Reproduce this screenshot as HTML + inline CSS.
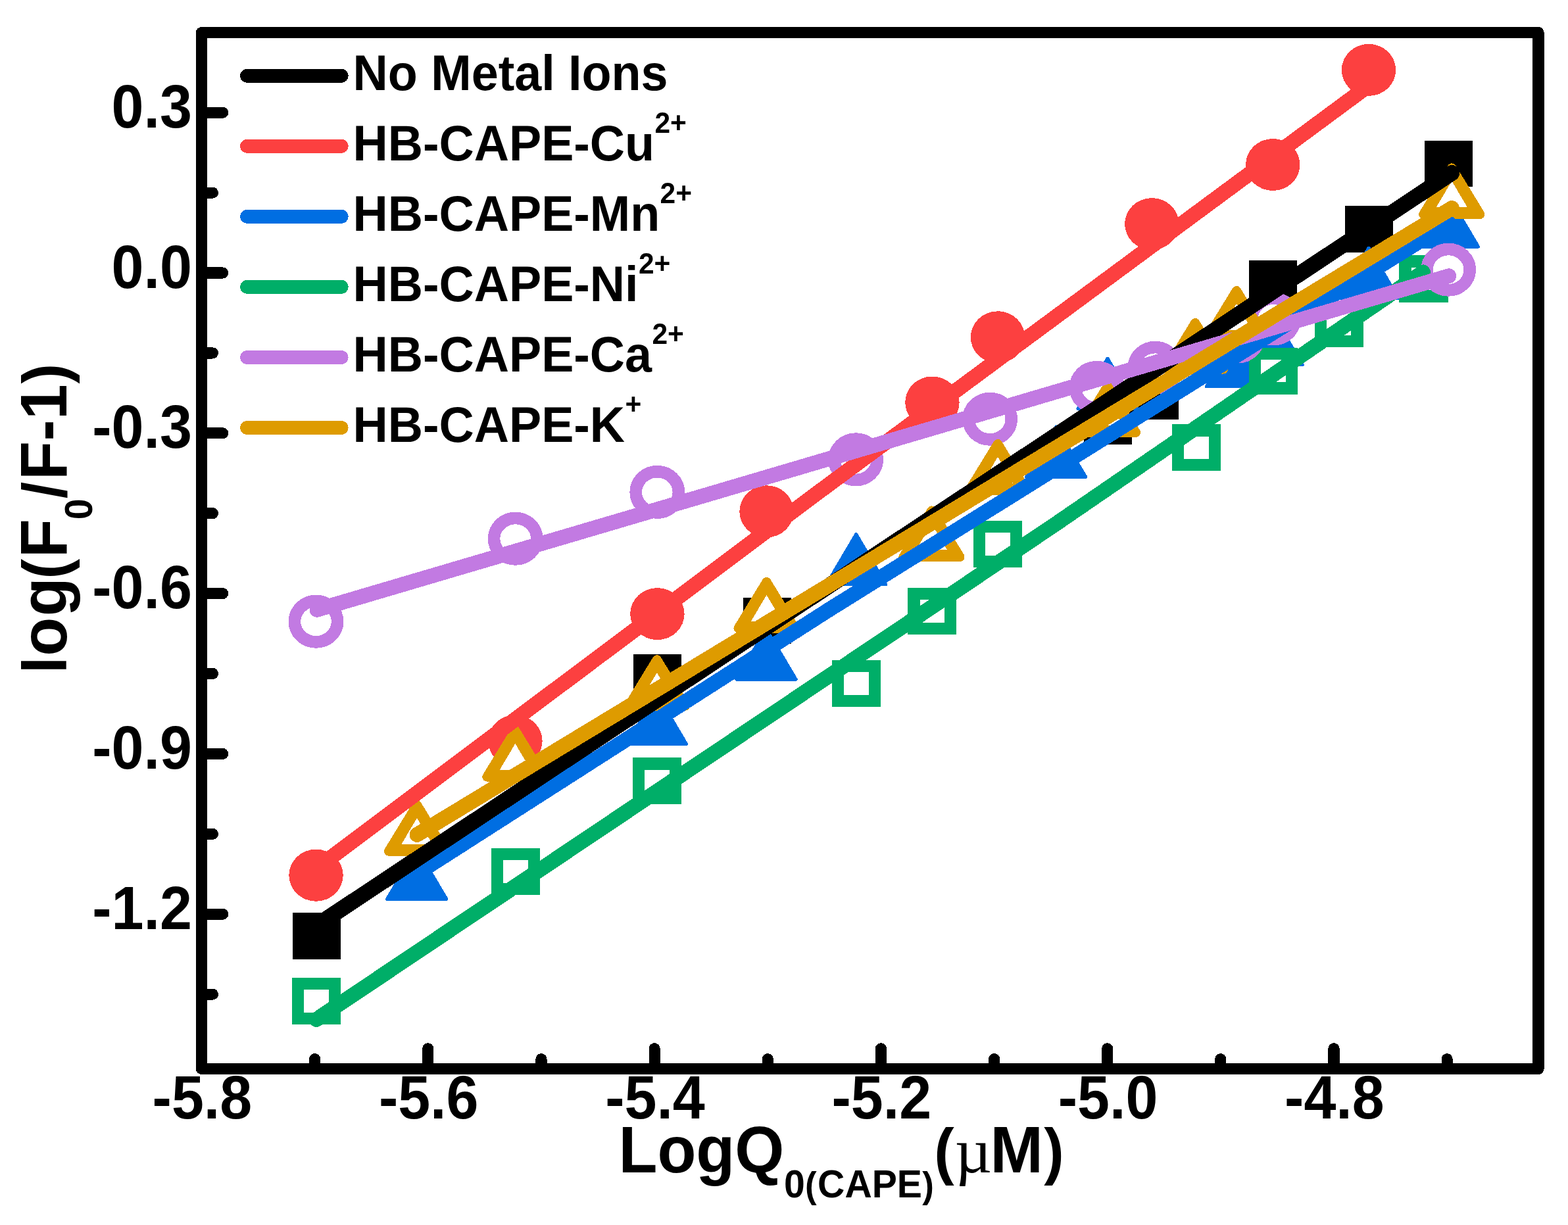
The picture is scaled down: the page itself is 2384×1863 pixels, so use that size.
<!DOCTYPE html>
<html lang="en"><head><meta charset="utf-8"><title>log(F0/F-1) vs LogQ0(CAPE)</title>
<style>html,body{margin:0;padding:0;background:#fff}svg{display:block}text{font-family:"Liberation Sans",sans-serif;font-weight:bold;fill:#000}.sym{font-family:"Liberation Serif",serif;font-weight:normal}</style></head><body>
<svg width="2384" height="1863" viewBox="0 0 2384 1863" shape-rendering="crispEdges">
<rect x="0" y="0" width="2384" height="1863" fill="#fff"/>
<g id="markers">
<rect x="445.0" y="1388.1" width="73.0" height="70.6" fill="#000000"/>
<rect x="962.5" y="995.4" width="73.0" height="70.6" fill="#000000"/>
<rect x="1129.5" y="908.7" width="73.0" height="70.6" fill="#000000"/>
<rect x="1647.5" y="605.7" width="73.0" height="70.6" fill="#000000"/>
<rect x="1718.5" y="567.4" width="73.0" height="70.6" fill="#000000"/>
<rect x="1899.2" y="396.0" width="73.0" height="70.6" fill="#000000"/>
<rect x="2044.5" y="313.2" width="73.0" height="70.6" fill="#000000"/>
<rect x="2166.0" y="213.7" width="73.0" height="70.6" fill="#000000"/>
<ellipse cx="480.5" cy="1331.2" rx="41.2" ry="39.5" fill="#FC4040"/>
<ellipse cx="783.4" cy="1126.8" rx="41.2" ry="39.5" fill="#FC4040"/>
<ellipse cx="999.4" cy="933.6" rx="41.2" ry="39.5" fill="#FC4040"/>
<ellipse cx="1165.5" cy="777.8" rx="41.2" ry="39.5" fill="#FC4040"/>
<ellipse cx="1417.4" cy="612.0" rx="41.2" ry="39.5" fill="#FC4040"/>
<ellipse cx="1517.0" cy="512.8" rx="41.2" ry="39.5" fill="#FC4040"/>
<ellipse cx="1751.3" cy="340.6" rx="41.2" ry="39.5" fill="#FC4040"/>
<ellipse cx="1935.2" cy="250.5" rx="41.2" ry="39.5" fill="#FC4040"/>
<ellipse cx="2081.0" cy="106.4" rx="41.2" ry="39.5" fill="#FC4040"/>
<path d="M588.6 1367.2L633.7 1290.8L678.8 1367.2Z" fill="#006EE2" stroke="#006EE2" stroke-width="5.0" stroke-linejoin="round"/>
<path d="M953.4 1131.6L998.5 1055.2L1043.6 1131.6Z" fill="#006EE2" stroke="#006EE2" stroke-width="5.0" stroke-linejoin="round"/>
<path d="M1119.9 1033.1L1165.0 956.7L1210.1 1033.1Z" fill="#006EE2" stroke="#006EE2" stroke-width="5.0" stroke-linejoin="round"/>
<path d="M1256.6 888.9L1301.7 812.5L1346.8 888.9Z" fill="#006EE2" stroke="#006EE2" stroke-width="5.0" stroke-linejoin="round"/>
<path d="M1560.6 725.5L1605.7 649.1L1650.8 725.5Z" fill="#006EE2" stroke="#006EE2" stroke-width="5.0" stroke-linejoin="round"/>
<path d="M1638.9 621.5L1684.0 545.1L1729.1 621.5Z" fill="#006EE2" stroke="#006EE2" stroke-width="5.0" stroke-linejoin="round"/>
<path d="M1834.2 587.9L1879.3 511.5L1924.4 587.9Z" fill="#006EE2" stroke="#006EE2" stroke-width="5.0" stroke-linejoin="round"/>
<path d="M1890.1 554.9L1935.2 478.5L1980.3 554.9Z" fill="#006EE2" stroke="#006EE2" stroke-width="5.0" stroke-linejoin="round"/>
<path d="M2035.9 453.5L2081.0 377.1L2126.1 453.5Z" fill="#006EE2" stroke="#006EE2" stroke-width="5.0" stroke-linejoin="round"/>
<path d="M2157.4 375.2L2202.5 298.8L2247.6 375.2Z" fill="#006EE2" stroke="#006EE2" stroke-width="5.0" stroke-linejoin="round"/>
<rect x="453.2" y="1496.2" width="55.8" height="52.7" fill="#fff" stroke="#00AE68" stroke-width="18.4"/>
<rect x="755.9" y="1299.2" width="55.8" height="52.7" fill="#fff" stroke="#00AE68" stroke-width="18.4"/>
<rect x="971.1" y="1161.4" width="55.8" height="52.7" fill="#fff" stroke="#00AE68" stroke-width="18.4"/>
<rect x="1274.1" y="1013.1" width="55.8" height="52.7" fill="#fff" stroke="#00AE68" stroke-width="18.4"/>
<rect x="1389.4" y="903.1" width="55.8" height="52.7" fill="#fff" stroke="#00AE68" stroke-width="18.4"/>
<rect x="1489.2" y="801.1" width="55.8" height="52.7" fill="#fff" stroke="#00AE68" stroke-width="18.4"/>
<rect x="1791.0" y="654.5" width="55.8" height="52.7" fill="#fff" stroke="#00AE68" stroke-width="18.4"/>
<rect x="1908.1" y="537.9" width="55.8" height="52.7" fill="#fff" stroke="#00AE68" stroke-width="18.4"/>
<rect x="2007.8" y="466.6" width="55.8" height="52.7" fill="#fff" stroke="#00AE68" stroke-width="18.4"/>
<rect x="2136.6" y="397.6" width="55.8" height="52.7" fill="#fff" stroke="#00AE68" stroke-width="18.4"/>
<ellipse cx="480.5" cy="945.2" rx="32.6" ry="31.2" fill="#fff" stroke="#C27AE2" stroke-width="18.6"/>
<ellipse cx="783.7" cy="819.2" rx="32.6" ry="31.2" fill="#fff" stroke="#C27AE2" stroke-width="18.6"/>
<ellipse cx="999.3" cy="748.4" rx="32.6" ry="31.2" fill="#fff" stroke="#C27AE2" stroke-width="18.6"/>
<ellipse cx="1301.2" cy="698.8" rx="32.6" ry="31.2" fill="#fff" stroke="#C27AE2" stroke-width="18.6"/>
<ellipse cx="1505.2" cy="637.3" rx="32.6" ry="31.2" fill="#fff" stroke="#C27AE2" stroke-width="18.6"/>
<ellipse cx="1667.6" cy="589.4" rx="32.6" ry="31.2" fill="#fff" stroke="#C27AE2" stroke-width="18.6"/>
<ellipse cx="1756.3" cy="559.3" rx="32.6" ry="31.2" fill="#fff" stroke="#C27AE2" stroke-width="18.6"/>
<ellipse cx="1881.5" cy="512.0" rx="32.6" ry="31.2" fill="#fff" stroke="#C27AE2" stroke-width="18.6"/>
<ellipse cx="1936.0" cy="485.0" rx="32.6" ry="31.2" fill="#fff" stroke="#C27AE2" stroke-width="18.6"/>
<ellipse cx="2202.2" cy="410.2" rx="32.6" ry="31.2" fill="#fff" stroke="#C27AE2" stroke-width="18.6"/>
<path d="M590.9 1294.6L634.0 1224.1L677.1 1294.6Z" fill="#DE9B00" stroke="#DE9B00" stroke-width="14.0" stroke-linejoin="round"/>
<path d="M610.5 1283.7L634.0 1244.0L657.5 1283.7Z" fill="#fff"/>
<path d="M740.3 1181.5L783.4 1111.0L826.5 1181.5Z" fill="#DE9B00" stroke="#DE9B00" stroke-width="14.0" stroke-linejoin="round"/>
<path d="M759.9 1170.6L783.4 1130.9L806.9 1170.6Z" fill="#fff"/>
<path d="M955.7 1073.7L998.8 1003.2L1041.9 1073.7Z" fill="#DE9B00" stroke="#DE9B00" stroke-width="14.0" stroke-linejoin="round"/>
<path d="M975.3 1062.8L998.8 1023.1L1022.3 1062.8Z" fill="#fff"/>
<path d="M1122.4 955.5L1165.5 885.0L1208.6 955.5Z" fill="#DE9B00" stroke="#DE9B00" stroke-width="14.0" stroke-linejoin="round"/>
<path d="M1142.0 944.6L1165.5 904.9L1189.0 944.6Z" fill="#fff"/>
<path d="M1373.4 847.0L1416.5 776.5L1459.6 847.0Z" fill="#DE9B00" stroke="#DE9B00" stroke-width="14.0" stroke-linejoin="round"/>
<path d="M1393.0 836.1L1416.5 796.4L1440.0 836.1Z" fill="#fff"/>
<path d="M1473.9 745.5L1517.0 675.0L1560.1 745.5Z" fill="#DE9B00" stroke="#DE9B00" stroke-width="14.0" stroke-linejoin="round"/>
<path d="M1493.5 734.6L1517.0 694.9L1540.5 734.6Z" fill="#fff"/>
<path d="M1640.9 657.8L1684.0 587.3L1727.1 657.8Z" fill="#DE9B00" stroke="#DE9B00" stroke-width="14.0" stroke-linejoin="round"/>
<path d="M1660.5 646.9L1684.0 607.2L1707.5 646.9Z" fill="#fff"/>
<path d="M1774.1 561.5L1817.2 491.0L1860.3 561.5Z" fill="#DE9B00" stroke="#DE9B00" stroke-width="14.0" stroke-linejoin="round"/>
<path d="M1793.7 550.6L1817.2 510.9L1840.7 550.6Z" fill="#fff"/>
<path d="M1836.9 512.5L1880.0 442.0L1923.1 512.5Z" fill="#DE9B00" stroke="#DE9B00" stroke-width="14.0" stroke-linejoin="round"/>
<path d="M1856.5 501.6L1880.0 461.9L1903.5 501.6Z" fill="#fff"/>
<path d="M2164.2 325.9L2207.3 255.4L2250.4 325.9Z" fill="#DE9B00" stroke="#DE9B00" stroke-width="14.0" stroke-linejoin="round"/>
<path d="M2183.8 315.0L2207.3 275.3L2230.8 315.0Z" fill="#fff"/>
</g>
<g id="lines">
<polyline points="633.7,1328.6 1260.0,927.5 2202.5,339.4" fill="none" stroke="#006EE2" stroke-width="22.8" stroke-linecap="round" stroke-linejoin="round"/>
<polyline points="481.1,1550.5 1600.0,800.4 2163.5,413.8" fill="none" stroke="#00AE68" stroke-width="22.8" stroke-linecap="round" stroke-linejoin="round"/>
<polyline points="481.5,1407.4 2207.4,263.0" fill="none" stroke="#000000" stroke-width="24.0" stroke-linecap="round" stroke-linejoin="round"/>
<polyline points="480.5,1321.2 1232.0,757.7 2081.0,130.2" fill="none" stroke="#FC4040" stroke-width="22.8" stroke-linecap="round" stroke-linejoin="round"/>
<polyline points="482.0,927.3 2202.8,419.7" fill="none" stroke="#C27AE2" stroke-width="22.8" stroke-linecap="round" stroke-linejoin="round"/>
<polyline points="634.0,1269.5 2207.4,316.5" fill="none" stroke="#DE9B00" stroke-width="22.8" stroke-linecap="round" stroke-linejoin="round"/>
</g>
<rect x="306.4" y="49.7" width="2032.6" height="1575.6" fill="none" stroke="#000" stroke-width="17.4" stroke-linejoin="round"/>
<g stroke="#000" stroke-width="17.2" stroke-linecap="round">
<line x1="308.4" y1="171.2" x2="338.6" y2="171.2"/>
<line x1="308.4" y1="415.0" x2="338.6" y2="415.0"/>
<line x1="308.4" y1="658.8" x2="338.6" y2="658.8"/>
<line x1="308.4" y1="902.6" x2="338.6" y2="902.6"/>
<line x1="308.4" y1="1146.4" x2="338.6" y2="1146.4"/>
<line x1="308.4" y1="1390.2" x2="338.6" y2="1390.2"/>
<line x1="308.4" y1="293.1" x2="323.4" y2="293.1"/>
<line x1="308.4" y1="536.9" x2="323.4" y2="536.9"/>
<line x1="308.4" y1="780.7" x2="323.4" y2="780.7"/>
<line x1="308.4" y1="1024.5" x2="323.4" y2="1024.5"/>
<line x1="308.4" y1="1268.3" x2="323.4" y2="1268.3"/>
<line x1="308.4" y1="1512.1" x2="323.4" y2="1512.1"/>
<line x1="650.8" y1="1623.3" x2="650.8" y2="1594.8"/>
<line x1="995.1" y1="1623.3" x2="995.1" y2="1594.8"/>
<line x1="1339.4" y1="1623.3" x2="1339.4" y2="1594.8"/>
<line x1="1683.7" y1="1623.3" x2="1683.7" y2="1594.8"/>
<line x1="2028.0" y1="1623.3" x2="2028.0" y2="1594.8"/>
<line x1="478.6" y1="1623.3" x2="478.6" y2="1610.7"/>
<line x1="822.9" y1="1623.3" x2="822.9" y2="1610.7"/>
<line x1="1167.2" y1="1623.3" x2="1167.2" y2="1610.7"/>
<line x1="1511.6" y1="1623.3" x2="1511.6" y2="1610.7"/>
<line x1="1855.8" y1="1623.3" x2="1855.8" y2="1610.7"/>
<line x1="2200.1" y1="1623.3" x2="2200.1" y2="1610.7"/>
</g>
<text transform="translate(291.9 193.8) scale(1 1.048)" font-size="88.0px" text-anchor="end">0.3</text>
<text transform="translate(291.9 437.6) scale(1 1.048)" font-size="88.0px" text-anchor="end">0.0</text>
<text transform="translate(291.9 681.4) scale(1 1.048)" font-size="88.0px" text-anchor="end">-0.3</text>
<text transform="translate(291.9 925.2) scale(1 1.048)" font-size="88.0px" text-anchor="end">-0.6</text>
<text transform="translate(291.9 1169.0) scale(1 1.048)" font-size="88.0px" text-anchor="end">-0.9</text>
<text transform="translate(291.9 1412.8) scale(1 1.048)" font-size="88.0px" text-anchor="end">-1.2</text>
<text transform="translate(307.4 1700.5) scale(1 1.048)" font-size="88.0px" text-anchor="middle">-5.8</text>
<text transform="translate(651.7 1700.5) scale(1 1.048)" font-size="88.0px" text-anchor="middle">-5.6</text>
<text transform="translate(996.0 1700.5) scale(1 1.048)" font-size="88.0px" text-anchor="middle">-5.4</text>
<text transform="translate(1340.3 1700.5) scale(1 1.048)" font-size="88.0px" text-anchor="middle">-5.2</text>
<text transform="translate(1684.6 1700.5) scale(1 1.048)" font-size="88.0px" text-anchor="middle">-5.0</text>
<text transform="translate(2028.9 1700.5) scale(1 1.048)" font-size="88.0px" text-anchor="middle">-4.8</text>
<text transform="translate(940.5 1783.1) scale(1 1.042)" font-size="96.5px"><tspan x="0">LogQ</tspan><tspan x="251.4" dy="36.6" font-size="57.2px">0</tspan><tspan x="283.6" font-size="53.0px">(</tspan><tspan x="302.6" font-size="57.2px">CAPE</tspan><tspan x="461.7" font-size="53.0px">)</tspan><tspan x="479.8" dy="-36.6" font-size="91.5px">(</tspan><tspan x="565.0">M</tspan><tspan x="646.8" font-size="91.5px">)</tspan></text>
<text class="sym" x="1451.8" y="1783.1" font-size="97.6px">µ</text>
<text transform="translate(100.9 1024.6) rotate(-90) scale(1 1.042)" font-size="96.5px"><tspan x="0.3" font-size="91.5px">l</tspan><tspan x="26.9">o</tspan><tspan x="87.4">g</tspan><tspan x="144.0" font-size="91.5px">(</tspan><tspan x="176.4">F</tspan><tspan x="234.4" dy="37.8" font-size="57.2px">0</tspan><tspan x="266.4" dy="-37.8" font-size="91.5px">/</tspan><tspan x="294.6">F</tspan><tspan x="354.0">-</tspan><tspan x="386.6">1</tspan><tspan x="441.2" font-size="91.5px">)</tspan></text>
<line x1="375.6" y1="115.3" x2="519.2" y2="115.3" stroke="#000000" stroke-width="21.0" stroke-linecap="round"/>
<text transform="translate(536.6 137.0) scale(1 1.04)" font-size="73.7px">No Metal Ions</text>
<line x1="375.6" y1="222.3" x2="519.2" y2="222.3" stroke="#FC4040" stroke-width="21.0" stroke-linecap="round"/>
<text transform="translate(536.6 244.0) scale(1 1.04)" font-size="73.7px">HB-CAPE-Cu<tspan font-size="42.5px" dy="-40.2" dx="0.4">2+</tspan></text>
<line x1="375.6" y1="329.4" x2="519.2" y2="329.4" stroke="#006EE2" stroke-width="21.0" stroke-linecap="round"/>
<text transform="translate(536.6 351.0) scale(1 1.04)" font-size="73.7px">HB-CAPE-Mn<tspan font-size="42.5px" dy="-40.2" dx="0.4">2+</tspan></text>
<line x1="375.6" y1="436.4" x2="519.2" y2="436.4" stroke="#00AE68" stroke-width="21.0" stroke-linecap="round"/>
<text transform="translate(536.6 458.0) scale(1 1.04)" font-size="73.7px">HB-CAPE-Ni<tspan font-size="42.5px" dy="-40.2" dx="0.4">2+</tspan></text>
<line x1="375.6" y1="543.5" x2="519.2" y2="543.5" stroke="#C27AE2" stroke-width="21.0" stroke-linecap="round"/>
<text transform="translate(536.6 565.0) scale(1 1.04)" font-size="73.7px">HB-CAPE-Ca<tspan font-size="42.5px" dy="-40.2" dx="0.4">2+</tspan></text>
<line x1="375.6" y1="650.5" x2="519.2" y2="650.5" stroke="#DE9B00" stroke-width="21.0" stroke-linecap="round"/>
<text transform="translate(536.6 672.0) scale(1 1.04)" font-size="73.7px">HB-CAPE-K<tspan font-size="42.5px" dy="-40.2" dx="0.4">+</tspan></text>
</svg></body></html>
